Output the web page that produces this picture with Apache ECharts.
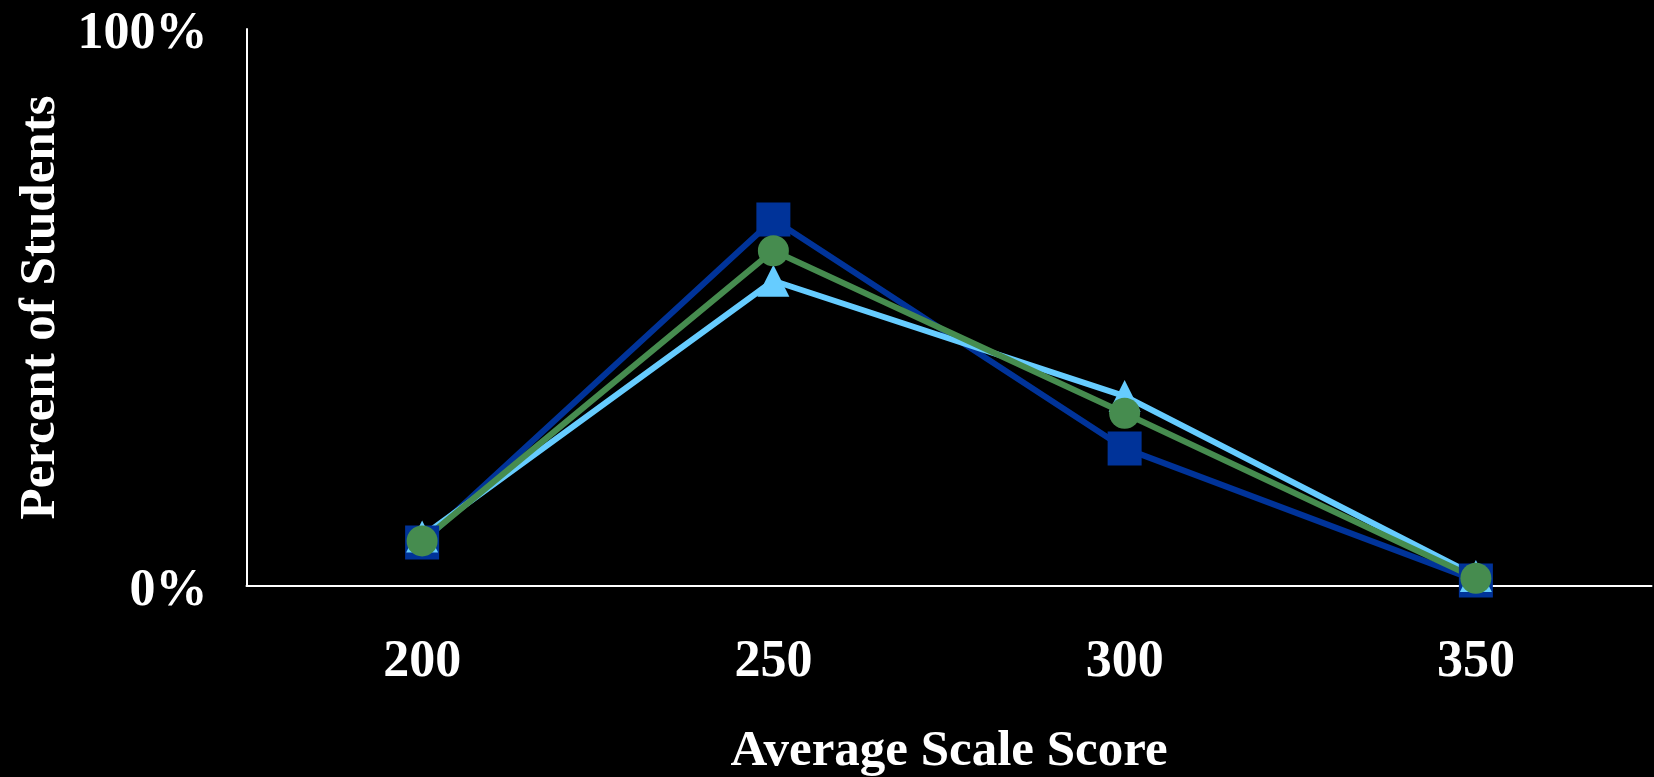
<!DOCTYPE html>
<html>
<head>
<meta charset="utf-8">
<script src="https://cdn.jsdelivr.net/npm/echarts@6/dist/echarts.min.js"></script>
<style>
html,body{margin:0;padding:0;background:#000;}
#chart{width:1654px;height:777px;}
</style>
</head>
<body>
<div id="chart"></div>
<script>
var categories = ['200', '250', '300', '350'];
var seriesDark = [7.8, 65.8, 24.7, 1.0];
var seriesLight = [8.9, 54.8, 34.1, 1.8];
var seriesGreen = [8.1, 60.2, 31.0, 1.4];
var yTicks = {0: '0%', 100: '100%'};

var FONT = '"Liberation Serif", "Times New Roman", serif';
var chart = echarts.init(document.getElementById('chart'));
chart.setOption({
  backgroundColor: '#000000',
  animation: false,
  grid: {left: 246.5, right: 2.5, top: 29, bottom: 191, containLabel: false, outerBoundsMode: 'none'},
  xAxis: {
    type: 'category',
    data: categories,
    boundaryGap: true,
    name: 'Average Scale Score',
    nameLocation: 'middle',
    nameGap: 140,
    nameTextStyle: {color: '#ffffff', fontFamily: FONT, fontWeight: 'bold', fontSize: 51},
    axisLine: {lineStyle: {color: '#ffffff', width: 2}},
    axisTick: {show: false},
    axisLabel: {color: '#ffffff', fontFamily: FONT, fontWeight: 'bold', fontSize: 52, margin: 51}
  },
  yAxis: {
    type: 'value',
    min: 0,
    max: 100,
    interval: 100,
    name: 'Percent of Students',
    nameLocation: 'middle',
    nameRotate: 90,
    nameGap: 170,
    nameTextStyle: {color: '#ffffff', fontFamily: FONT, fontWeight: 'bold', fontSize: 51},
    axisLine: {show: true, lineStyle: {color: '#ffffff', width: 2}},
    axisTick: {show: false},
    splitLine: {show: false},
    axisLabel: {
      color: '#ffffff', fontFamily: FONT, fontWeight: 'bold', fontSize: 52, margin: 39,
      formatter: function (v) { return yTicks[v] !== undefined ? '{v|' + yTicks[v] + '}' : ''; },
      rich: {
        v: {color: '#ffffff', fontFamily: FONT, fontWeight: 'bold', fontSize: 52,
            lineHeight: 64, verticalAlign: 'bottom'}
      }
    }
  },
  series: [
    {
      type: 'line', data: seriesDark, symbol: 'rect', symbolSize: 34,
      lineStyle: {color: '#003399', width: 6}, itemStyle: {color: '#003399'}
    },
    {
      type: 'line', data: seriesLight, symbol: 'triangle', symbolSize: 32,
      lineStyle: {color: '#66ccff', width: 6}, itemStyle: {color: '#66ccff'}
    },
    {
      type: 'line', data: seriesGreen, symbol: 'circle', symbolSize: 31,
      lineStyle: {color: '#468c4f', width: 6}, itemStyle: {color: '#468c4f'}
    }
  ]
});
</script>
</body>
</html>
